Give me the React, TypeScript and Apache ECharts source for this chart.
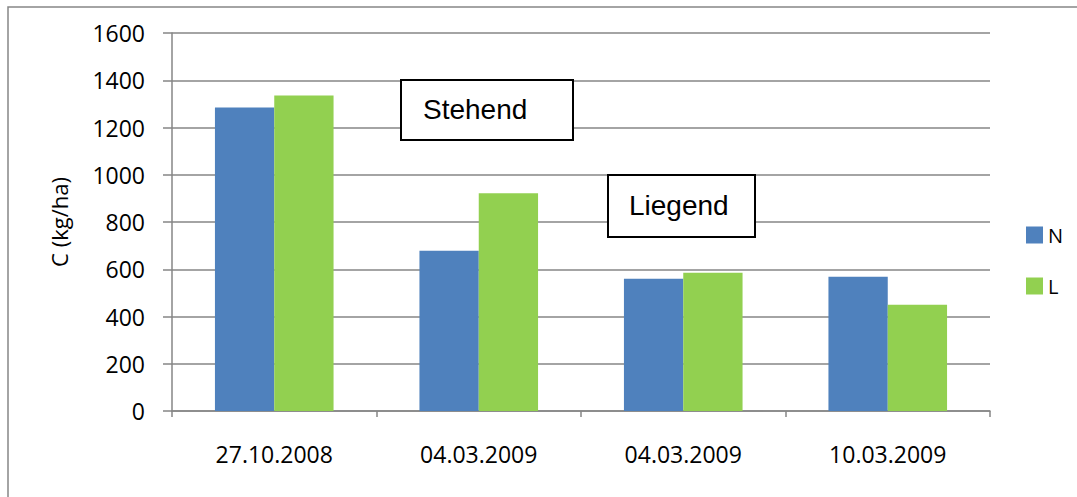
import React, { useEffect, useRef } from "react";
import * as echarts from "echarts";

const categories = ["27.10.2008", "04.03.2009", "04.03.2009", "10.03.2009"];
const seriesN = [1285, 678, 560, 568];
const seriesL = [1335, 922, 585, 450];
const yTicks = { min: 0, max: 1600, interval: 200 };

export default function App() {
  const ref = useRef<HTMLDivElement>(null);
  useEffect(() => {
    if (!ref.current) return;
    const chart = echarts.init(ref.current, null, { renderer: "svg" });
    const font = "'Open Sans', sans-serif";
    chart.setOption({
      animation: false,
      backgroundColor: "#ffffff",
      grid: { left: 172, top: 33, right: 87, bottom: 86, containLabel: false },
      legend: {
        orient: "vertical",
        left: 1021,
        top: 220,
        itemWidth: 17,
        itemHeight: 17,
        itemGap: 31,
        icon: "rect",
        textStyle: { fontFamily: font, fontSize: 20, color: "#000" },
        data: ["N", "L"],
      },
      xAxis: {
        type: "category",
        data: categories,
        axisLine: { lineStyle: { color: "#868686", width: 1.5 } },
        axisTick: { show: true, length: 6, lineStyle: { color: "#868686", width: 1.5 } },
        axisLabel: { fontFamily: font, fontSize: 23, color: "#000", margin: 31 },
      },
      yAxis: {
        type: "value",
        min: yTicks.min,
        max: yTicks.max,
        interval: yTicks.interval,
        name: "C (kg/ha)",
        nameLocation: "middle",
        nameGap: 102,
        nameTextStyle: { fontFamily: font, fontSize: 22, color: "#000" },
        axisLine: { show: true, lineStyle: { color: "#868686", width: 1.5 } },
        axisTick: { show: true, length: 9, lineStyle: { color: "#868686", width: 1.5 } },
        axisLabel: {
          fontFamily: font,
          fontSize: 23,
          color: "#000",
          margin: 27,
          formatter: (v: number) => String(v),
        },
        splitLine: { show: true, lineStyle: { color: "#868686", width: 1.5 } },
      },
      series: [
        {
          name: "N",
          type: "bar",
          data: seriesN,
          itemStyle: { color: "#4F81BD" },
          barGap: "0%",
          barCategoryGap: "42%",
        },
        {
          name: "L",
          type: "bar",
          data: seriesL,
          itemStyle: { color: "#92D050" },
          barGap: "0%",
          barCategoryGap: "42%",
        },
      ],
      graphic: [
        {
          type: "rect",
          shape: { x: 8, y: 7, width: 1100, height: 520 },
          style: { fill: "none", stroke: "#868686", lineWidth: 1.5 },
          silent: true,
        },
        {
          type: "rect",
          shape: { x: 401, y: 80, width: 172, height: 60 },
          style: { fill: "#fff", stroke: "#000", lineWidth: 2 },
          z: 10,
        },
        {
          type: "text",
          x: 423,
          y: 109,
          style: {
            text: "Stehend",
            fontFamily: "'Liberation Sans', Arial, sans-serif",
            fontSize: 28,
            fill: "#000",
            verticalAlign: "middle",
          },
          z: 11,
        },
        {
          type: "rect",
          shape: { x: 608, y: 175, width: 147, height: 62 },
          style: { fill: "#fff", stroke: "#000", lineWidth: 2 },
          z: 10,
        },
        {
          type: "text",
          x: 629,
          y: 205,
          style: {
            text: "Liegend",
            fontFamily: "'Liberation Sans', Arial, sans-serif",
            fontSize: 28,
            fill: "#000",
            verticalAlign: "middle",
          },
          z: 11,
        },
      ],
    });
    return () => chart.dispose();
  }, []);
  return (
    <div
      ref={ref}
      style={{ position: "absolute", left: 0, top: 0, width: 1077, height: 497 }}
    />
  );
}
